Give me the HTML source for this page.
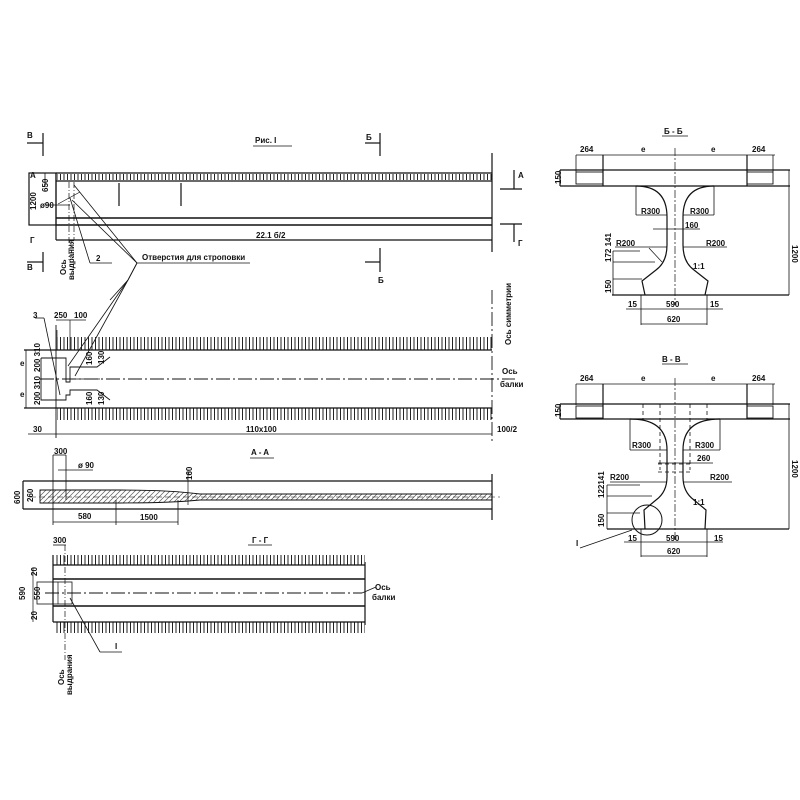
<!DOCTYPE html>
<html><head><meta charset="utf-8"><style>
html,body{margin:0;padding:0;background:#fff;}
svg{display:block;}
text{font-family:"Liberation Sans",sans-serif;font-size:8px;fill:#111;font-weight:bold;}
</style></head><body>
<svg width="800" height="800" viewBox="0 0 800 800" xmlns="http://www.w3.org/2000/svg">
<defs>
<pattern id="tk" width="3.5" height="20" patternUnits="userSpaceOnUse"><line x1="1" y1="0" x2="1" y2="20" stroke="#222" stroke-width="1"/></pattern>
<pattern id="hh" width="5" height="10" patternUnits="userSpaceOnUse" patternTransform="skewX(-45)"><line x1="1" y1="0" x2="1" y2="10" stroke="#333" stroke-width="0.8"/></pattern>
</defs>
<g stroke="#111" stroke-width="1.2" fill="none">
<!-- ===== Рис.1 elevation ===== -->
<line x1="43" y1="133" x2="43" y2="156"/><line x1="27" y1="143" x2="43" y2="143"/>
<line x1="380" y1="133" x2="380" y2="156"/><line x1="365" y1="143" x2="380" y2="143"/>
<line x1="253" y1="146" x2="292" y2="146" stroke-width="0.8"/>
<rect x="29" y="173" width="27" height="52"/>
<line x1="45" y1="173" x2="45" y2="187" stroke-width="0.8"/>
<line x1="56" y1="173" x2="492" y2="173"/>
<line x1="56" y1="181" x2="492" y2="181"/>
<rect x="57" y="174" width="435" height="6" fill="url(#tk)" stroke="none"/>
<line x1="56" y1="173" x2="56" y2="240"/>
<line x1="56" y1="218" x2="492" y2="218" stroke-width="1.6"/>
<line x1="56" y1="225" x2="492" y2="225" stroke-width="1.4"/>
<line x1="56" y1="240" x2="492" y2="240"/>
<line x1="119" y1="183" x2="119" y2="206"/>
<line x1="181" y1="183" x2="181" y2="206"/>
<line x1="492" y1="153" x2="492" y2="252"/>
<line x1="500" y1="189" x2="522" y2="189"/><line x1="514" y1="170" x2="514" y2="189"/>
<line x1="500" y1="224" x2="522" y2="224"/><line x1="514" y1="224" x2="514" y2="242"/>
<line x1="43" y1="252" x2="43" y2="272"/><line x1="27" y1="262" x2="43" y2="262"/>
<line x1="380" y1="248" x2="380" y2="272"/><line x1="365" y1="262" x2="380" y2="262"/>
<line x1="69" y1="182" x2="69" y2="260" stroke-width="0.7" stroke-dasharray="6 2 1 2"/>
<line x1="74" y1="182" x2="74" y2="240" stroke-width="0.7" stroke-dasharray="6 2 1 2"/>
<line x1="58" y1="204" x2="80" y2="192" stroke-width="0.7"/>
<line x1="45" y1="205" x2="70" y2="205" stroke-width="0.7"/>
<line x1="70" y1="198" x2="90" y2="263" stroke-width="0.8"/><line x1="90" y1="263" x2="112" y2="263" stroke-width="0.8"/>
<line x1="74" y1="185" x2="137" y2="263" stroke-width="0.8"/>
<line x1="72" y1="200" x2="137" y2="263" stroke-width="0.8"/>
<line x1="137" y1="263" x2="250" y2="263" stroke-width="0.8"/>
<line x1="137" y1="263" x2="128" y2="280" stroke-width="1"/>
<line x1="128" y1="280" x2="110" y2="300" stroke-width="0.8"/>
<line x1="128" y1="280" x2="75" y2="376" stroke-width="0.8"/>
<line x1="128" y1="280" x2="68" y2="366" stroke-width="0.8"/>
<!-- ===== Plan ===== -->
<rect x="57" y="337" width="435" height="13" fill="url(#tk)" stroke="none"/>
<rect x="57" y="408" width="435" height="12" fill="url(#tk)" stroke="none"/>
<line x1="24" y1="350" x2="492" y2="350"/>
<line x1="24" y1="408" x2="492" y2="408"/>
<line x1="26" y1="350" x2="26" y2="408" stroke-width="0.8"/>
<line x1="56" y1="325" x2="56" y2="438" stroke-width="0.9"/>
<line x1="40" y1="379" x2="515" y2="379" stroke-width="0.9" stroke-dasharray="14 3 2 3"/>
<line x1="492" y1="290" x2="492" y2="442" stroke-width="0.9" stroke-dasharray="14 3 2 3"/>
<polyline points="41,358 66,358 66,382 70,382 70,367 97,367 110,357" stroke-width="0.9"/>
<polyline points="41,358 41,400 66,400 66,395 70,395 70,390 97,390 110,400" stroke-width="0.9"/>
<line x1="70" y1="379" x2="100" y2="379" stroke-width="0.8"/>
<line x1="35" y1="318" x2="44" y2="318" stroke-width="0.8"/><line x1="44" y1="318" x2="60" y2="395" stroke-width="0.8"/>
<line x1="57" y1="330" x2="57" y2="350" stroke-width="0.7"/><line x1="70" y1="320" x2="70" y2="350" stroke-width="0.7"/>
<line x1="56" y1="320" x2="86" y2="320" stroke-width="0.7"/>
<line x1="28" y1="434" x2="492" y2="434" stroke-width="0.8"/>
<!-- ===== A-A ===== -->
<line x1="250" y1="458" x2="274" y2="458" stroke-width="0.8"/>
<line x1="23" y1="481" x2="492" y2="481"/>
<line x1="23" y1="509" x2="492" y2="509"/>
<line x1="23" y1="481" x2="23" y2="509"/>
<path d="M40,490 L120,490 Q170,490 200,494 L492,494 L492,500 L200,500 Q170,503 120,503 L40,503 Z" fill="url(#hh)" stroke-width="0.9"/>
<line x1="492" y1="474" x2="492" y2="520"/>
<line x1="30" y1="497" x2="500" y2="497" stroke-width="0.5" stroke-dasharray="6 3"/>
<line x1="53" y1="455" x2="53" y2="525" stroke-width="0.8"/><line x1="66" y1="455" x2="66" y2="500" stroke-width="0.8"/>
<line x1="53" y1="455" x2="66" y2="455" stroke-width="0.8"/>
<line x1="58" y1="470" x2="93" y2="470" stroke-width="0.7"/>
<line x1="53" y1="522" x2="178" y2="522" stroke-width="0.8"/>
<line x1="116" y1="500" x2="116" y2="525" stroke-width="0.8"/><line x1="178" y1="500" x2="178" y2="525" stroke-width="0.8"/>
<line x1="188" y1="470" x2="188" y2="505" stroke-width="0.7"/>
<!-- ===== Г-Г ===== -->
<line x1="248" y1="545" x2="272" y2="545" stroke-width="0.8"/>
<rect x="54" y="555" width="311" height="10" fill="url(#tk)" stroke="none"/>
<rect x="54" y="622" width="311" height="11" fill="url(#tk)" stroke="none"/>
<line x1="53" y1="565" x2="365" y2="565"/>
<line x1="53" y1="579" x2="365" y2="579" stroke-width="1.4"/>
<line x1="53" y1="606" x2="365" y2="606" stroke-width="1.4"/>
<line x1="53" y1="622" x2="365" y2="622"/>
<line x1="53" y1="555" x2="53" y2="622"/>
<line x1="365" y1="562" x2="365" y2="625"/>
<line x1="45" y1="593" x2="362" y2="593" stroke-width="0.9" stroke-dasharray="14 3 2 3"/>
<rect x="37" y="582" width="35" height="22" stroke-width="0.8"/>
<line x1="58" y1="582" x2="58" y2="604" stroke-width="0.7"/>
<line x1="65" y1="545" x2="65" y2="660" stroke-width="0.7" stroke-dasharray="6 2 1 2"/>
<line x1="53" y1="545" x2="66" y2="545" stroke-width="0.8"/>
<line x1="70" y1="598" x2="100" y2="652" stroke-width="0.8"/><line x1="100" y1="652" x2="122" y2="652" stroke-width="0.8"/>
<line x1="362" y1="593" x2="376" y2="587" stroke-width="0.7"/>
<line x1="33" y1="568" x2="33" y2="622" stroke-width="0.7"/>
<!-- ===== Б-Б ===== -->
<line x1="662" y1="136" x2="688" y2="136" stroke-width="0.8"/>
<line x1="576" y1="155" x2="775" y2="155" stroke-width="0.8"/>
<line x1="576" y1="155" x2="576" y2="172" stroke-width="0.8"/><line x1="773" y1="155" x2="773" y2="172" stroke-width="0.8"/>
<line x1="560" y1="170" x2="790" y2="170"/>
<line x1="560" y1="186" x2="790" y2="186"/>
<line x1="560" y1="170" x2="560" y2="186"/>
<rect x="576" y="172" width="27" height="12" stroke-width="0.9"/>
<rect x="747" y="172" width="26" height="12" stroke-width="0.9"/>
<line x1="603" y1="155" x2="603" y2="186"/><line x1="747" y1="155" x2="747" y2="186"/>
<path d="M636,186 Q667,186 667,217 L667,245 Q667,262 656,270 L642,281 L645,295" />
<path d="M714,186 Q683,186 683,217 L683,245 Q683,262 694,270 L708,281 L705,295" />
<line x1="612" y1="295" x2="789" y2="295"/>
<line x1="789" y1="170" x2="789" y2="295" stroke-width="0.8"/>
<line x1="636" y1="186" x2="636" y2="215" stroke-width="0.8"/><line x1="636" y1="215" x2="667" y2="215" stroke-width="0.8"/>
<line x1="714" y1="186" x2="714" y2="215" stroke-width="0.8"/><line x1="683" y1="215" x2="714" y2="215" stroke-width="0.8"/>
<line x1="653" y1="229" x2="700" y2="229" stroke-width="0.8"/>
<line x1="615" y1="247" x2="667" y2="247" stroke-width="0.8"/><line x1="683" y1="247" x2="727" y2="247" stroke-width="0.8"/>
<line x1="649" y1="248" x2="662" y2="262" stroke-width="0.7"/>
<line x1="613" y1="251" x2="613" y2="295" stroke-width="0.8"/>
<line x1="613" y1="251" x2="640" y2="251" stroke-width="0.7"/>
<line x1="613" y1="262" x2="655" y2="262" stroke-width="0.7"/>
<line x1="613" y1="279" x2="642" y2="279" stroke-width="0.7"/>
<line x1="626" y1="309" x2="723" y2="309" stroke-width="0.8"/>
<line x1="641" y1="295" x2="641" y2="325" stroke-width="0.8"/><line x1="707" y1="295" x2="707" y2="325" stroke-width="0.8"/>
<line x1="641" y1="324" x2="707" y2="324" stroke-width="0.8"/>
<line x1="675" y1="148" x2="675" y2="305" stroke-width="0.7" stroke-dasharray="8 2 2 2"/>
<!-- ===== В-В ===== -->
<line x1="662" y1="364" x2="688" y2="364" stroke-width="0.8"/>
<line x1="576" y1="384" x2="775" y2="384" stroke-width="0.8"/>
<line x1="576" y1="384" x2="576" y2="405" stroke-width="0.8"/><line x1="773" y1="384" x2="773" y2="405" stroke-width="0.8"/>
<line x1="560" y1="404" x2="790" y2="404"/>
<line x1="560" y1="419" x2="790" y2="419"/>
<line x1="560" y1="404" x2="560" y2="419"/>
<rect x="576" y="406" width="27" height="12" stroke-width="0.9"/>
<rect x="747" y="406" width="26" height="12" stroke-width="0.9"/>
<line x1="603" y1="384" x2="603" y2="419"/><line x1="747" y1="384" x2="747" y2="419"/>
<path d="M630,419 Q667,419 667,450 L667,477 Q667,492 656,500 L644,510 L645,529"/>
<path d="M720,419 Q683,419 683,450 L683,477 Q683,492 694,500 L706,510 L705,529"/>
<line x1="607" y1="529" x2="789" y2="529"/>
<line x1="789" y1="404" x2="789" y2="529" stroke-width="0.8"/>
<line x1="630" y1="419" x2="630" y2="450" stroke-width="0.8"/><line x1="630" y1="450" x2="667" y2="450" stroke-width="0.8"/>
<line x1="720" y1="419" x2="720" y2="450" stroke-width="0.8"/><line x1="683" y1="450" x2="720" y2="450" stroke-width="0.8"/>
<g stroke-width="0.8" stroke-dasharray="4 3"><line x1="643" y1="404" x2="643" y2="419"/><line x1="660" y1="404" x2="660" y2="470"/><line x1="690" y1="404" x2="690" y2="470"/><line x1="707" y1="404" x2="707" y2="419"/><line x1="658" y1="464" x2="692" y2="464"/><line x1="658" y1="472" x2="692" y2="472"/></g>
<line x1="658" y1="463" x2="713" y2="463" stroke-width="0.8"/>
<line x1="610" y1="482" x2="667" y2="482" stroke-width="0.8"/><line x1="683" y1="482" x2="732" y2="482" stroke-width="0.8"/>
<line x1="607" y1="485" x2="607" y2="529" stroke-width="0.8"/>
<line x1="607" y1="485" x2="640" y2="485" stroke-width="0.7"/>
<line x1="607" y1="496" x2="652" y2="496" stroke-width="0.7"/>
<line x1="607" y1="513" x2="640" y2="513" stroke-width="0.7"/>
<circle cx="647" cy="520" r="15" stroke-width="1"/>
<line x1="632" y1="530" x2="580" y2="548" stroke-width="0.8"/>
<line x1="624" y1="542" x2="723" y2="542" stroke-width="0.8"/>
<line x1="641" y1="529" x2="641" y2="557" stroke-width="0.8"/><line x1="707" y1="529" x2="707" y2="557" stroke-width="0.8"/>
<line x1="641" y1="556" x2="707" y2="556" stroke-width="0.8"/>
<line x1="675" y1="378" x2="675" y2="540" stroke-width="0.7" stroke-dasharray="8 2 2 2"/>
</g>
<!-- text -->
<text x="255" y="143">Рис. I</text>
<text x="27" y="138">В</text><text x="366" y="140">Б</text>
<text x="27" y="270">В</text><text x="378" y="283">Б</text>
<text x="518" y="178">A</text><text x="518" y="246">Г</text>
<text x="30" y="178" font-size="7">A</text><text x="30" y="243" font-size="7">Г</text>
<text x="256" y="238">22.1 б/2</text>
<text transform="translate(36,210) rotate(-90)">1200</text>
<text transform="translate(48,192) rotate(-90)">650</text>
<text x="40" y="208" font-size="6">ø90</text>
<text x="96" y="261">2</text>
<text x="142" y="260" font-size="6.5">Отверстия для строповки</text>
<text transform="translate(66,275) rotate(-90)" font-size="6">Ось</text>
<text transform="translate(74,280) rotate(-90)" font-size="5.5">выдрания</text>
<text x="33" y="318">3</text><text x="54" y="318">250</text><text x="74" y="318">100</text>
<text x="20" y="366">e</text><text x="20" y="397">e</text>
<text transform="translate(40,372) rotate(-90)" font-size="6.5">200 310</text>
<text transform="translate(40,405) rotate(-90)" font-size="6.5">200 310</text>
<text transform="translate(92,365) rotate(-90)" font-size="6.5">160</text>
<text transform="translate(104,364) rotate(-90)" font-size="6.5">130</text>
<text transform="translate(92,405) rotate(-90)" font-size="6.5">160</text>
<text transform="translate(104,405) rotate(-90)" font-size="6.5">130</text>
<text transform="translate(511,345) rotate(-90)" font-size="6">Ось симметрии</text>
<text x="502" y="374" font-size="6">Ось</text><text x="500" y="387" font-size="6">балки</text>
<text x="33" y="432">30</text><text x="246" y="432">110x100</text><text x="497" y="432">100/2</text>
<text x="251" y="455">A - A</text>
<text x="54" y="454">300</text><text x="78" y="468" font-size="7">ø 90</text>
<text transform="translate(192,480) rotate(-90)" font-size="7">160</text>
<text transform="translate(33,502) rotate(-90)" font-size="7">260</text>
<text transform="translate(20,504) rotate(-90)" font-size="7">600</text>
<text x="78" y="519">580</text><text x="140" y="520" font-size="7">1500</text>
<text x="252" y="543">Г - Г</text>
<text x="53" y="543">300</text>
<text transform="translate(37,576) rotate(-90)" font-size="7">20</text>
<text transform="translate(40,600) rotate(-90)" font-size="7">550</text>
<text transform="translate(37,620) rotate(-90)" font-size="7">20</text>
<text transform="translate(25,600) rotate(-90)" font-size="7">590</text>
<text x="375" y="590" font-size="6">Ось</text><text x="372" y="600" font-size="6">балки</text>
<text x="115" y="649">I</text>
<text transform="translate(64,685) rotate(-90)" font-size="6">Ось</text>
<text transform="translate(72,695) rotate(-90)" font-size="5.5">выдрания</text>
<text x="664" y="134">Б - Б</text>
<text x="580" y="152">264</text><text x="641" y="152">e</text><text x="711" y="152">e</text><text x="752" y="152">264</text>
<text transform="translate(561,184) rotate(-90)">150</text>
<text x="641" y="214" font-size="7">R300</text><text x="690" y="214" font-size="7">R300</text>
<text x="685" y="228" font-size="7">160</text>
<text x="616" y="246" font-size="7">R200</text><text x="706" y="246" font-size="7">R200</text>
<text x="693" y="269" font-size="6">1:1</text>
<text transform="translate(611,262) rotate(-90)" font-size="6">172 141</text>
<text transform="translate(611,293) rotate(-90)" font-size="6">150</text>
<text transform="translate(792,245) rotate(90)">1200</text>
<text x="628" y="307" font-size="7">15</text><text x="666" y="307" font-size="7">590</text><text x="710" y="307" font-size="7">15</text>
<text x="667" y="322" font-size="7">620</text>
<text x="662" y="362">В - В</text>
<text x="580" y="381">264</text><text x="641" y="381">e</text><text x="711" y="381">e</text><text x="752" y="381">264</text>
<text transform="translate(561,417) rotate(-90)">150</text>
<text x="632" y="448" font-size="7">R300</text><text x="695" y="448" font-size="7">R300</text>
<text x="697" y="461" font-size="7">260</text>
<text x="610" y="480" font-size="7">R200</text><text x="710" y="480" font-size="7">R200</text>
<text x="693" y="505" font-size="6">1:1</text>
<text transform="translate(604,498) rotate(-90)" font-size="6">122141</text>
<text transform="translate(604,527) rotate(-90)" font-size="6">150</text>
<text transform="translate(792,460) rotate(90)">1200</text>
<text x="576" y="546">I</text>
<text x="628" y="541" font-size="7">15</text><text x="666" y="541" font-size="7">590</text><text x="714" y="541" font-size="7">15</text>
<text x="667" y="554" font-size="7">620</text>
</svg>
</body></html>
